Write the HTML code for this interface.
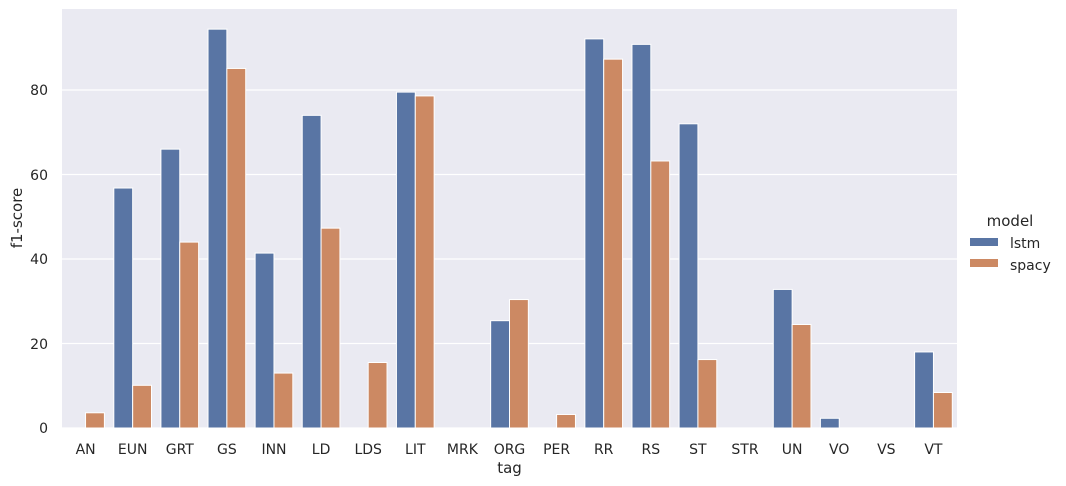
<!DOCTYPE html>
<html><head><meta charset="utf-8"><style>
body{margin:0;background:#fff;}
svg{display:block;font-family:"DejaVu Sans","Liberation Sans",sans-serif;}
text{fill:#262626;}
</style></head><body>
<svg id="s" width="1066" height="486" viewBox="0 0 1066 486">
<rect x="62" y="9" width="895" height="419" fill="#eaeaf2"/>
<g id="grid" stroke="#fff" stroke-width="1.2"></g>
<g id="bars" stroke="#fff" stroke-width="1"></g>
<g font-size="14" text-anchor="end">
<text x="48" y="433">0</text>
<text x="48" y="349">20</text>
<text x="48" y="264">40</text>
<text x="48" y="180">60</text>
<text x="48" y="95">80</text>
</g>
<g font-size="14" text-anchor="middle">
<text x="85.6" y="454">AN</text>
<text x="132.7" y="454">EUN</text>
<text x="179.8" y="454">GRT</text>
<text x="226.9" y="454">GS</text>
<text x="274.0" y="454">INN</text>
<text x="321.1" y="454">LD</text>
<text x="368.2" y="454">LDS</text>
<text x="415.3" y="454">LIT</text>
<text x="462.4" y="454">MRK</text>
<text x="509.5" y="454">ORG</text>
<text x="556.6" y="454">PER</text>
<text x="603.7" y="454">RR</text>
<text x="650.8" y="454">RS</text>
<text x="697.9" y="454">ST</text>
<text x="745.0" y="454">STR</text>
<text x="792.1" y="454">UN</text>
<text x="839.2" y="454">VO</text>
<text x="886.3" y="454">VS</text>
<text x="933.4" y="454">VT</text>
</g>
<text x="509.5" y="473" font-size="15" text-anchor="middle">tag</text>
<text transform="translate(22,218) rotate(-90)" font-size="15" text-anchor="middle">f1-score</text>
<text x="1010" y="226" font-size="15" text-anchor="middle">model</text>
<rect x="970" y="238" width="28" height="8" fill="#5975a4"/>
<rect x="970" y="259" width="28" height="8" fill="#cc8963"/>
<text x="1010" y="248" font-size="14">lstm</text>
<text x="1010" y="270" font-size="14">spacy</text>
</svg>
<script>
var ns="http://www.w3.org/2000/svg";
var g=document.getElementById('grid'),b=document.getElementById('bars');
[0,20,40,60,80].forEach(function(v){var y=428-v*4.225;var l=document.createElementNS(ns,'line');l.setAttribute('x1',62);l.setAttribute('x2',957);l.setAttribute('y1',y);l.setAttribute('y2',y);g.appendChild(l);});
var d=[[0,3.6],[56.8,10.1],[66,44],[94.4,85.1],[41.4,13],[74,47.3],[0,15.5],[79.5,78.6],[0,0],[25.4,30.4],[0,3.2],[92.1,87.3],[90.8,63.2],[72,16.2],[0,0],[32.8,24.5],[2.3,0],[0,0],[18,8.4]];
var cw=895/19;
d.forEach(function(p,i){var c=62+cw*(i+0.5);[0,1].forEach(function(k){var v=p[k];if(v<=0)return;var h=v*4.225;var r=document.createElementNS(ns,'rect');r.setAttribute('x',c-cw*0.4+k*cw*0.4);r.setAttribute('width',cw*0.4);r.setAttribute('y',428-h);r.setAttribute('height',h);r.setAttribute('fill',k?'#cc8963':'#5975a4');b.appendChild(r);});});
</script>
</body></html>
